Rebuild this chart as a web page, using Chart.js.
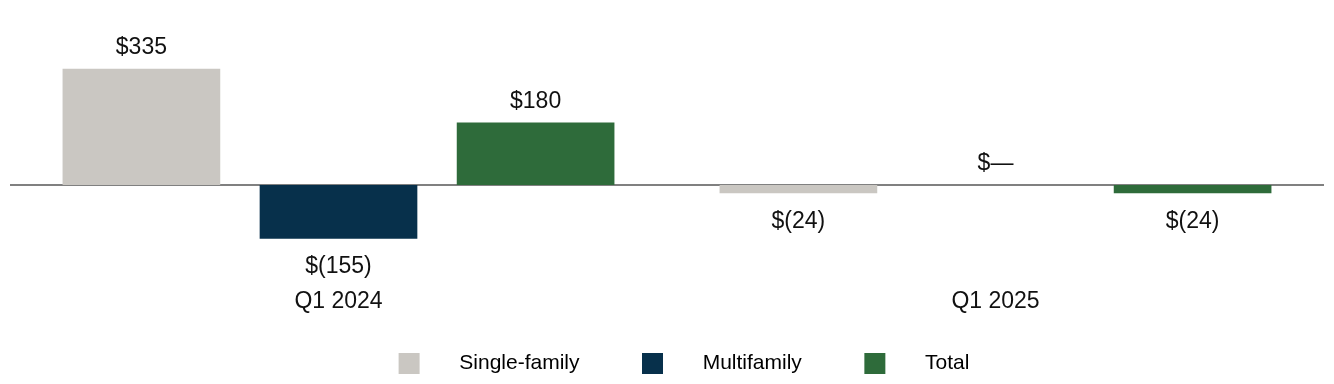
<!DOCTYPE html>
<html lang="en">
<head>
    <meta charset="UTF-8">
    <title>Single-family / Multifamily</title>
    <script src="https://cdn.jsdelivr.net/npm/chart.js"></script>
    <style>
        body { margin: 0; background: #fff; }
        #wrap { width: 1334px; height: 384px; position: relative; }
    </style>
</head>
<body>
    <div id="wrap"><canvas id="chartCanvas"></canvas></div>

    <script>
        var categories = ['Q1 2024', 'Q1 2025'];
        var singleFamily = [335, -24];
        var multifamily = [-155, 0];
        var total = [180, -24];
        var seriesNames = ['Single-family', 'Multifamily', 'Total'];
        var seriesColors = ['#cac7c2', '#07304b', '#2e6b3a'];

        function fmt(v) {
            if (v === 0) return '$\u2014';
            if (v < 0) return '$(' + Math.abs(v) + ')';
            return '$' + v;
        }

        // zero line under the bars
        var zeroLine = {
            id: 'zeroLine',
            beforeDatasetsDraw: function(chart) {
                var ctx = chart.ctx, area = chart.chartArea;
                var y = chart.scales.y.getPixelForValue(0);
                ctx.save();
                ctx.strokeStyle = '#808080';
                ctx.lineWidth = 2;
                ctx.beginPath();
                ctx.moveTo(area.left, y);
                ctx.lineTo(area.right, y);
                ctx.stroke();
                ctx.restore();
            }
        };

        // value labels above / below each bar
        var valueLabels = {
            id: 'valueLabels',
            afterDatasetsDraw: function(chart) {
                var ctx = chart.ctx;
                ctx.save();
                ctx.font = '23px "Liberation Sans", Arial, sans-serif';
                ctx.fillStyle = '#111';
                ctx.textAlign = 'center';
                ctx.textBaseline = 'middle';
                chart.data.datasets.forEach(function(ds, i) {
                    chart.getDatasetMeta(i).data.forEach(function(bar, j) {
                        var v = ds.data[j];
                        var y = v < 0 ? bar.y + 28 : bar.y - 21;
                        ctx.fillText(fmt(v), bar.x, y);
                    });
                });
                ctx.restore();
            }
        };

        // nudge legend a bit to the right like the original
        var legendShift = {
            id: 'legendShift',
            afterLayout: function(chart) {
                chart.legend.left += 17;
                chart.legend.right += 17;
            }
        };

        var sp = '     ';
        var legendText = [sp + seriesNames[0] + '         ', sp + seriesNames[1] + '         ', sp + seriesNames[2]];

        Chart.defaults.font.family = '"Liberation Sans", Arial, sans-serif';
        Chart.defaults.color = '#111';

        var ctx = document.getElementById('chartCanvas').getContext('2d');
        new Chart(ctx, {
            type: 'bar',
            data: {
                labels: categories,
                datasets: [
                    { label: seriesNames[0], data: singleFamily, backgroundColor: seriesColors[0] },
                    { label: seriesNames[1], data: multifamily, backgroundColor: seriesColors[1] },
                    { label: seriesNames[2], data: total, backgroundColor: seriesColors[2] }
                ]
            },
            options: {
                responsive: true,
                maintainAspectRatio: false,
                animation: false,
                layout: { padding: { left: 10, right: 10, top: 0, bottom: 0 } },
                categoryPercentage: 0.9,
                barPercentage: 0.8,
                plugins: {
                    tooltip: { enabled: false },
                    legend: {
                        position: 'bottom',
                        labels: {
                            boxWidth: 21,
                            boxHeight: 21,
                            padding: 10,
                            font: { size: 21 },
                            color: '#111',
                            generateLabels: function(chart) {
                                return chart.data.datasets.map(function(ds, i) {
                                    return {
                                        text: legendText[i],
                                        fillStyle: ds.backgroundColor,
                                        strokeStyle: ds.backgroundColor,
                                        lineWidth: 0,
                                        datasetIndex: i,
                                        hidden: false
                                    };
                                });
                            }
                        }
                    }
                },
                scales: {
                    x: {
                        grid: { display: false, drawTicks: false },
                        border: { display: false },
                        ticks: { font: { size: 23 }, color: '#111', padding: 6 },
                        afterFit: function(scale) { scale.height = 61; }
                    },
                    y: {
                        display: false,
                        min: -280,
                        max: 533
                    }
                }
            },
            plugins: [zeroLine, valueLabels, legendShift]
        });
    </script>
</body>
</html>
